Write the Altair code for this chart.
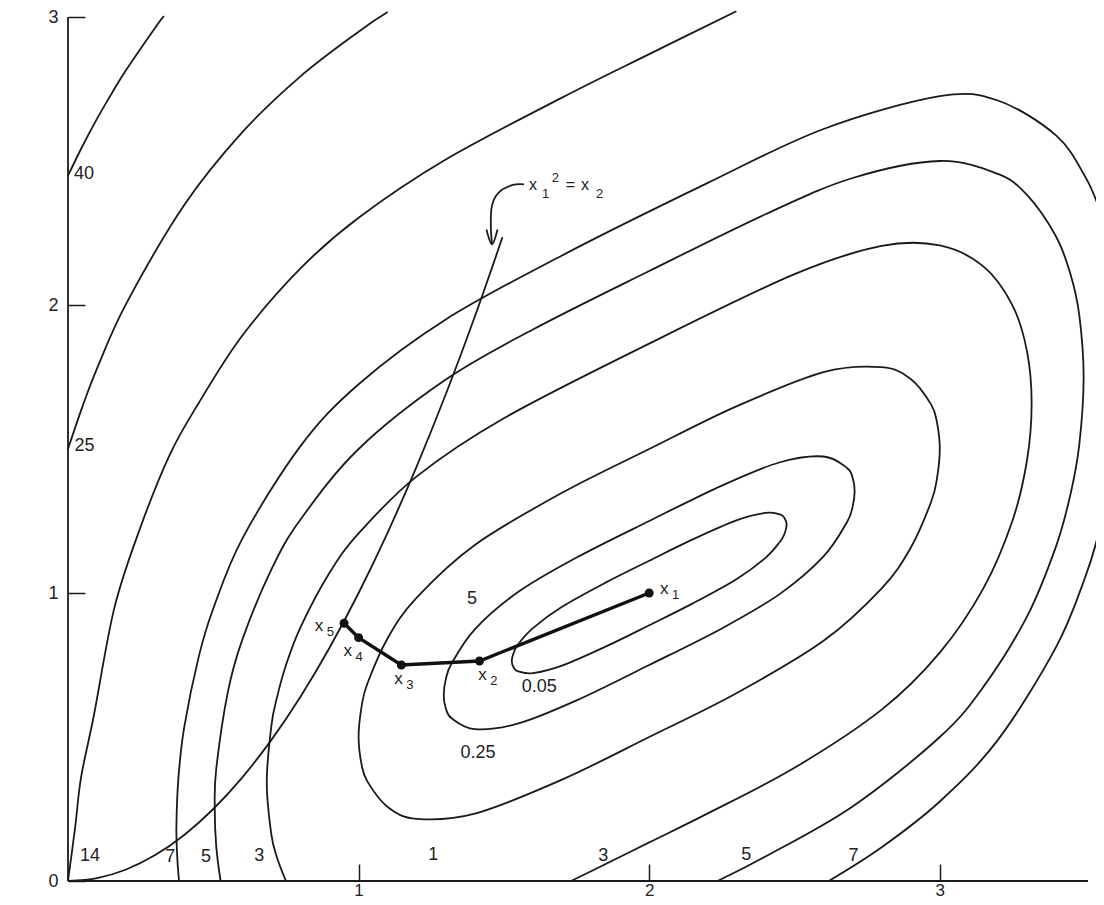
import altair as alt
import pandas as pd

# ---------------- contour data (x1, x2) ----------------
c005_x = [1.527, 1.535, 1.55, 1.6, 1.7, 1.85, 2.0, 2.15, 2.3, 2.4, 2.45, 2.465, 2.473,
          2.465, 2.45, 2.4, 2.3, 2.15, 2.0, 1.85, 1.7, 1.6, 1.55, 1.535]
c005_y = [0.764, 0.739, 0.728, 0.722, 0.748, 0.814, 0.888, 0.964, 1.048, 1.122, 1.178, 1.204, 1.237,
          1.261, 1.273, 1.278, 1.252, 1.186, 1.112, 1.036, 0.952, 0.878, 0.823, 0.796]

c025_x = [1.293, 1.30, 1.32, 1.40, 1.55, 1.75, 2.0, 2.25, 2.45, 2.60, 2.68, 2.70, 2.707,
          2.70, 2.68, 2.60, 2.45, 2.25, 2.0, 1.75, 1.55, 1.40, 1.32, 1.30]
c025_y = [0.646, 0.600, 0.565, 0.527, 0.547, 0.627, 0.750, 0.877, 0.997, 1.127, 1.245, 1.300, 1.354,
          1.400, 1.435, 1.474, 1.454, 1.373, 1.250, 1.123, 1.004, 0.874, 0.755, 0.700]

c1_x = [1.0, 1.01, 1.03, 1.1, 1.2, 1.4, 1.7, 2.0, 2.3, 2.6, 2.8, 2.9, 2.97, 2.99, 3.0,
        2.99, 2.97, 2.9, 2.8, 2.6, 2.3, 2.0, 1.7, 1.4, 1.2, 1.1, 1.03, 1.01]
c1_y = [0.5, 0.406, 0.346, 0.257, 0.216, 0.234, 0.352, 0.5, 0.652, 0.834, 1.016, 1.157, 1.316, 1.396, 1.5,
        1.594, 1.655, 1.743, 1.784, 1.767, 1.648, 1.5, 1.348, 1.167, 0.984, 0.843, 0.685, 0.604]

c3_x = [0.75, 0.72, 0.70, 0.684, 0.70, 0.72, 0.75, 0.80, 0.90, 1.0, 1.2, 1.5, 2.0, 2.5, 2.8, 3.0,
        3.15, 3.25, 3.3, 3.316, 3.3, 3.25, 3.15, 3.0, 2.8, 2.5, 2.2, 2.0, 1.8, 1.731]
c3_y = [0.0, 0.079, 0.160, 0.342, 0.540, 0.641, 0.749, 0.881, 1.070, 1.207, 1.405, 1.607, 1.866, 2.107,
        2.205, 2.207, 2.134, 1.999, 1.840, 1.658, 1.460, 1.251, 1.016, 0.793, 0.595, 0.393, 0.234,
        0.134, 0.034, 0.0]

c5_x = [0.525, 0.51, 0.505, 0.51, 0.55, 0.6, 0.7, 0.8, 1.0, 1.3, 1.6, 2.0, 2.4, 2.7, 3.0, 3.2, 3.3,
        3.4, 3.45, 3.48, 3.495, 3.48, 3.45, 3.4, 3.3, 3.15, 3.0, 2.7, 2.4, 2.235]
c5_y = [0.0, 0.122, 0.252, 0.388, 0.656, 0.838, 1.082, 1.255, 1.5, 1.741, 1.915, 2.118, 2.315, 2.441,
        2.5, 2.455, 2.382, 2.238, 2.106, 1.965, 1.748, 1.515, 1.344, 1.162, 0.918, 0.674, 0.5, 0.259,
        0.085, 0.0]

c7_x = [0.382, 0.376, 0.373, 0.38, 0.4, 0.45, 0.5, 0.6, 0.8, 1.0, 1.3, 1.7, 2.2, 2.6, 3.0, 3.2, 3.4,
        3.5, 3.55, 3.6, 3.627, 3.6, 3.55, 3.5, 3.4, 3.2, 3.0, 2.8, 2.618]
c7_y = [0.0, 0.082, 0.187, 0.358, 0.534, 0.779, 0.946, 1.189, 1.51, 1.725, 1.95, 2.172, 2.423, 2.611,
        2.725, 2.71, 2.589, 2.446, 2.329, 2.134, 1.813, 1.466, 1.221, 1.054, 0.812, 0.49, 0.276,
        0.117, 0.0]

c14_x = [0.0, 0.025, 0.045, 0.09, 0.16, 0.25, 0.35, 0.45, 0.6, 0.8, 1.0, 1.3, 1.7, 2.0, 2.3]
c14_y = [0.0, 0.19, 0.36, 0.58, 0.95, 1.23, 1.48, 1.66, 1.894, 2.127, 2.303, 2.505, 2.72, 2.871, 3.02]

c25_x = [0.0, 0.05, 0.1, 0.2, 0.4, 0.6, 0.8, 1.0, 1.1]
c25_y = [1.5, 1.648, 1.78, 2.004, 2.347, 2.6, 2.794, 2.949, 3.017]

c40_x = [0.0, 0.05, 0.1, 0.15, 0.2, 0.3, 0.33]
c40_y = [2.449, 2.552, 2.647, 2.734, 2.816, 2.963, 3.003]

# constraint curve x1^2 = x2
con_x = [0.0, 0.1, 0.2, 0.3, 0.4, 0.5, 0.6, 0.7, 0.8, 0.9, 1.0, 1.1, 1.2, 1.3, 1.4, 1.495]
con_y = [0.0, 0.01, 0.04, 0.09, 0.16, 0.25, 0.36, 0.49, 0.64, 0.81, 1.0, 1.21, 1.44, 1.69, 1.96, 2.235]

# curved arrow of the annotation and its head
arr_x = [1.569, 1.528, 1.483, 1.459, 1.455, 1.459]
arr_y = [2.419, 2.416, 2.391, 2.346, 2.277, 2.211]
head_x = [1.440, 1.459, 1.478]
head_y = [2.262, 2.211, 2.262]

# iterates x5 -> x1
pts_x = [0.95, 1.0, 1.147, 1.416, 2.0]
pts_y = [0.895, 0.845, 0.750, 0.764, 1.0]
pts_sub = ["5", "4", "3", "2", "1"]
lab_x = [0.849, 0.948, 1.123, 1.412, 2.037]
lab_y = [0.885, 0.797, 0.701, 0.716, 1.014]

# contour value labels
val_text = ["14", "7", "5", "3", "1", "3", "5", "7", "0.05", "0.25", "5"]
val_x = [0.076, 0.352, 0.475, 0.658, 1.257, 1.842, 2.334, 2.703, 1.622, 1.411, 1.39]
val_y = [0.086, 0.084, 0.084, 0.086, 0.090, 0.087, 0.089, 0.088, 0.672, 0.445, 0.979]
side_text = ["40", "25"]
side_x = [0.021, 0.022]
side_y = [2.456, 1.51]

# annotation "x1^2 = x2", written piece by piece
ann_big_text = ["x", "=", "x"]
ann_big_x = [1.586, 1.713, 1.765]
ann_big_y = [2.398, 2.398, 2.398]
ann_small_text = ["1", "2", "2"]
ann_small_x = [1.631, 1.665, 1.817]
ann_small_y = [2.370, 2.428, 2.370]

x_range = [0.0, 3.51]
y_range = [0.0, 3.0]
x_ticks = [1, 2, 3]
y_ticks = [0, 1, 2, 3]

# ---------------- build tables ----------------
def table(curves):
    rows = []
    for name, xs, ys in curves:
        for i, (a, b) in enumerate(zip(xs, ys)):
            rows.append({"level": name, "x": a, "y": b, "i": i})
    return pd.DataFrame(rows)

closed_df = table([("0.05", c005_x, c005_y), ("0.25", c025_x, c025_y), ("1", c1_x, c1_y)])
open_df = table([("3", c3_x, c3_y), ("5", c5_x, c5_y), ("7", c7_x, c7_y),
                 ("14", c14_x, c14_y), ("25", c25_x, c25_y), ("40", c40_x, c40_y),
                 ("con", con_x, con_y), ("arrow", arr_x, arr_y), ("head", head_x, head_y)])
path_df = pd.DataFrame({"x": pts_x, "y": pts_y, "i": list(range(len(pts_x)))})
plab_df = pd.DataFrame({"x": lab_x, "y": lab_y, "t": ["x"] * len(lab_x), "s": pts_sub})
val_df = pd.DataFrame({"x": val_x, "y": val_y, "t": val_text})
side_df = pd.DataFrame({"x": side_x, "y": side_y, "t": side_text})
annb_df = pd.DataFrame({"x": ann_big_x, "y": ann_big_y, "t": ann_big_text})
anns_df = pd.DataFrame({"x": ann_small_x, "y": ann_small_y, "t": ann_small_text})

FONT = "Liberation Sans"
INK = "#1a1a1a"
TXT = "#222222"

xscale = alt.Scale(domain=x_range, nice=False, zero=False)
yscale = alt.Scale(domain=y_range, nice=False, zero=False)
xaxis = alt.Axis(values=x_ticks, domain=False, grid=False, tickSize=17, offset=-17,
                 tickColor=INK, tickWidth=1.5, labelPadding=1, labelFont=FONT,
                 labelFontSize=17, labelColor=TXT, title="")
yaxis = alt.Axis(values=y_ticks, domain=False, grid=False, tickSize=17, offset=-17,
                 tickColor=INK, tickWidth=1.5, labelPadding=10, labelFont=FONT,
                 labelFontSize=18, labelColor=TXT, title="")


def X(field="x"):
    return alt.X(f"{field}:Q", scale=xscale, axis=xaxis)


def Y(field="y"):
    return alt.Y(f"{field}:Q", scale=yscale, axis=yaxis)


closed = alt.Chart(closed_df).mark_line(
    interpolate="cardinal-closed", color=INK, strokeWidth=1.8
).encode(x=X(), y=Y(), detail="level:N", order="i:Q")

opened = alt.Chart(open_df).mark_line(
    interpolate="cardinal", color=INK, strokeWidth=1.8
).encode(x=X(), y=Y(), detail="level:N", order="i:Q")

xline = alt.Chart(pd.DataFrame({"x": [x_range[0]], "x2": [x_range[1]], "y": [0.0]})).mark_rule(
    color=INK, strokeWidth=1.8
).encode(x=X(), x2="x2:Q", y=Y())

yline = alt.Chart(pd.DataFrame({"x": [0.0], "y": [y_range[0]], "y2": [y_range[1]]})).mark_rule(
    color=INK, strokeWidth=1.8
).encode(x=X(), y=Y(), y2="y2:Q")

path = alt.Chart(path_df).mark_line(color="#111", strokeWidth=3.4).encode(
    x=X(), y=Y(), order="i:Q")
dots = alt.Chart(path_df).mark_circle(color="#111", size=80, opacity=1).encode(x=X(), y=Y())

plabels = alt.Chart(plab_df).mark_text(
    align="left", baseline="middle", font=FONT, fontSize=17, color=TXT
).encode(x=X(), y=Y(), text="t:N")
psubs = alt.Chart(plab_df).mark_text(
    align="left", baseline="middle", font=FONT, fontSize=13, color=TXT, dx=12, dy=6
).encode(x=X(), y=Y(), text="s:N")

vlabels = alt.Chart(val_df).mark_text(
    align="center", baseline="middle", font=FONT, fontSize=18, color=TXT
).encode(x=X(), y=Y(), text="t:N")

slabels = alt.Chart(side_df).mark_text(
    align="left", baseline="middle", font=FONT, fontSize=18, color=TXT
).encode(x=X(), y=Y(), text="t:N")

annb = alt.Chart(annb_df).mark_text(
    align="left", baseline="alphabetic", font=FONT, fontSize=16, color=TXT
).encode(x=X(), y=Y(), text="t:N")
anns = alt.Chart(anns_df).mark_text(
    align="left", baseline="alphabetic", font=FONT, fontSize=13, color=TXT
).encode(x=X(), y=Y(), text="t:N")

chart = alt.layer(
    opened, closed, xline, yline, path, dots, plabels, psubs, vlabels, slabels, annb, anns
).properties(
    width=1020, height=864,
    autosize=alt.AutoSizeParams(type="none"),
    padding={"left": 60, "top": 9, "right": 8, "bottom": 24},
    background="white",
).configure_view(stroke=None)

chart.save("out.html", embed_options={"renderer": "svg", "actions": False})
